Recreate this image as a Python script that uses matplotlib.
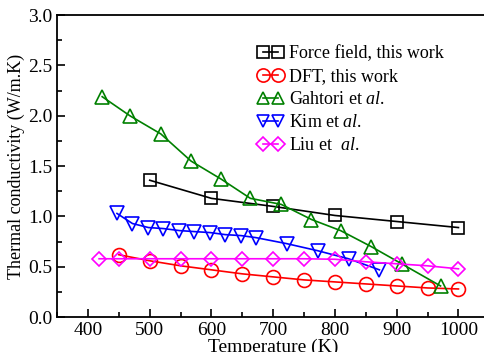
import matplotlib
matplotlib.use("Agg")
import matplotlib.pyplot as plt
from matplotlib.ticker import MultipleLocator

plt.rcParams['font.family'] = ['Liberation Serif', 'DejaVu Serif']
plt.rcParams['mathtext.fontset'] = 'custom'
plt.rcParams['mathtext.it'] = 'Liberation Serif:italic'
plt.rcParams['mathtext.rm'] = 'Liberation Serif'

# datos
ff_t = [500, 600, 700, 800, 900, 1000]
ff_k = [1.36, 1.18, 1.10, 1.01, 0.95, 0.89]

dft_t = [450, 500, 550, 600, 650, 700, 750, 800, 850, 900, 950, 1000]
dft_k = [0.62, 0.56, 0.51, 0.47, 0.43, 0.40, 0.37, 0.35, 0.33, 0.31, 0.29, 0.28]

gah_t = [423, 468, 518, 567, 616, 663, 713, 762, 809, 859, 908, 971]
gah_k = [2.19, 2.00, 1.82, 1.55, 1.37, 1.18, 1.12, 0.97, 0.86, 0.70, 0.53, 0.31]

kim_t = [447, 472, 498, 522, 548, 572, 598, 622, 648, 672, 722, 772, 822, 872]
kim_k = [1.03, 0.93, 0.89, 0.88, 0.86, 0.85, 0.84, 0.82, 0.81, 0.79, 0.73, 0.66, 0.58, 0.47]

liu_t = [418, 450, 500, 550, 600, 650, 700, 750, 800, 850, 900, 950, 1000]
liu_k = [0.58, 0.58, 0.58, 0.58, 0.58, 0.58, 0.58, 0.58, 0.575, 0.55, 0.53, 0.51, 0.48]

fig = plt.figure(figsize=(4.84, 3.52), dpi=100)
ax = fig.add_axes([0.118, 0.099, 0.893, 0.858])

estilo = dict(mfc='none', mew=1.2, lw=1.2)
ax.plot(ff_t, ff_k, 's-', color='black', label='Force field, this work', markersize=9, **estilo)
ax.plot(dft_t, dft_k, 'o-', color='red', label='DFT, this work', markersize=10, **estilo)
ax.plot(gah_t, gah_k, '^-', color='#008000', label=r'Gahtori et $\it{al.}$', markersize=9.5, **estilo)
ax.plot(kim_t, kim_k, 'v-', color='blue', label=r'Kim et $\it{al.}$', markersize=9.5, **estilo)
ax.plot(liu_t, liu_k, 'D-', color='magenta', label=r'Liu et  $\it{al.}$', markersize=7.5, **estilo)

ax.set_xlim(350, 1050)
ax.set_ylim(0, 3.0)
ax.xaxis.set_major_locator(MultipleLocator(100))
ax.xaxis.set_minor_locator(MultipleLocator(50))
ax.yaxis.set_major_locator(MultipleLocator(0.5))
ax.yaxis.set_minor_locator(MultipleLocator(0.25))
ax.yaxis.set_major_formatter(plt.FormatStrFormatter('%.1f'))
ax.tick_params(which='both', direction='in', labelsize=14, top=False, right=False)
ax.tick_params(which='major', length=6, width=1.2)
ax.tick_params(which='minor', length=3.5, width=1.2)
for s in ax.spines.values():
    s.set_linewidth(1.3)

ax.set_xlabel('Temperature (K)', fontsize=14, labelpad=0)
ax.set_ylabel('Thermal conductivity (W/m.K)', fontsize=13, labelpad=2)

ax.legend(loc='upper left', bbox_to_anchor=(0.446, 0.925), frameon=False, numpoints=2,
          fontsize=13, handlelength=1.43, handletextpad=0.36, labelspacing=0.33,
          borderaxespad=0, markerscale=0.95)

fig.savefig('out.png', dpi=100)
